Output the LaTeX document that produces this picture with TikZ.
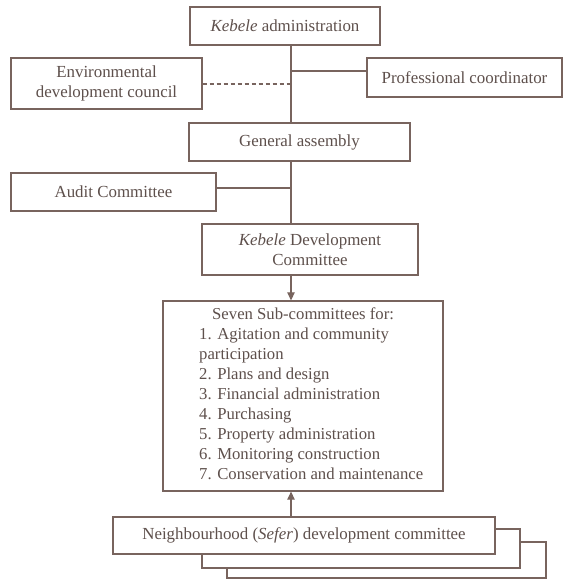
\documentclass[tikz,border=0pt]{standalone}
\usepackage{fontspec}
\setmainfont{Liberation Serif}
\usetikzlibrary{arrows.meta}
\definecolor{linec}{RGB}{120,100,94}
\definecolor{textc}{RGB}{94,80,76}
\begin{document}
\begin{tikzpicture}[x=1pt,y=-1pt,
  box/.style={draw=linec, line width=1.3pt, fill=white, text=textc, inner sep=0pt,
    align=center, font=\fontsize{16.9}{20}\selectfont},
  conn/.style={draw=linec, line width=1.2pt},
  arr/.style={conn, -{Triangle[length=8pt,width=7.5pt]}}]
\useasboundingbox (0,0) rectangle (567,580);
\fill[white] (0,0) rectangle (567,580);
% boxes
\node[box, minimum width=190pt, minimum height=38pt] (kadm) at (285,26) {\textit{Kebele} administration};
\node[box, minimum width=191pt, minimum height=51pt] (env) at (106.5,83.5) {Environmental\\development council};
\node[box, minimum width=195pt, minimum height=39pt] (prof) at (464.5,77.5) {Professional coordinator};
\node[box, minimum width=221pt, minimum height=38pt] (ga) at (299.5,142) {General assembly};
\node[box, minimum width=205pt, minimum height=38pt] (audit) at (113.5,192) {Audit Committee};
\node[box, minimum width=216pt, minimum height=51pt] (kdc) at (310,249.5) {\textit{Kebele} Development\\Committee};
\node[box, minimum width=280pt, minimum height=190pt] (seven) at (303,396) {};
\node[text=textc, inner sep=0pt, anchor=north west, align=left,
  font=\fontsize{16.7}{20}\selectfont] (seventxt) at (199,307.5)
  {\hspace*{13pt}Seven Sub-committees for:\\
   1. Agitation and community\\
   participation\\
   2. Plans and design\\
   3. Financial administration\\
   4. Purchasing\\
   5. Property administration\\
   6. Monitoring construction\\
   7. Conservation and maintenance};
\node[box, minimum width=319pt, minimum height=36pt] (nb3) at (386.5,560) {};
\node[box, minimum width=318pt, minimum height=39pt] (nb2) at (361,548.5) {};
\node[box, minimum width=382pt, minimum height=37pt] (nb1) at (304,535.5) {Neighbourhood (\textit{Sefer}) development committee};
% connectors
\coordinate (j1) at (291,71);
\coordinate (j2) at (291,84);
\coordinate (j3) at (291,188);
\draw[conn] (kadm.south -| j1) -- (ga.north -| j1);
\draw[conn] (j1) -- (prof.west |- j1);
\draw[conn, dashed, dash pattern=on 4pt off 3pt] (env.east |- j2) -- (j2);
\draw[conn] (ga.south -| j1) -- (kdc.north -| j1);
\draw[conn] (audit.east |- j3) -- (j3);
\draw[arr] (kdc.south -| j1) -- (seven.north -| j1);
\draw[arr] (nb1.north -| j1) -- (seven.south -| j1);
\end{tikzpicture}
\end{document}
